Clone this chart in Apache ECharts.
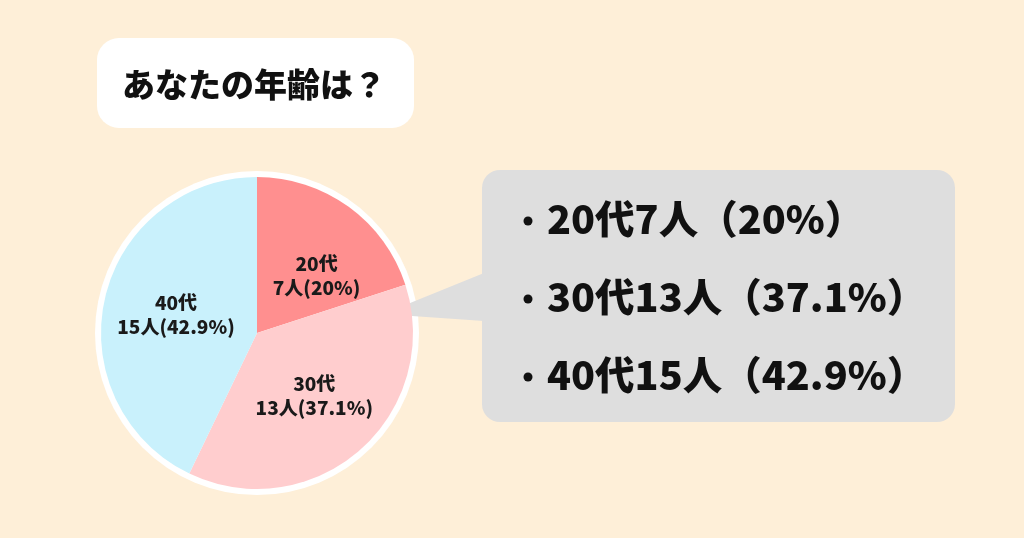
<!DOCTYPE html>
<html><head><meta charset="utf-8">
<script src="https://cdn.jsdelivr.net/npm/echarts@6/dist/echarts.min.js"></script>
<style>html,body{margin:0;padding:0;background:#FEEFD8;}#c{width:1024px;height:538px;}</style>
</head><body><div id="c"></div>
<script>
const titleText = 'あなたの年齢は？';
const categories = ['20代', '30代', '40代'];
const values = [7, 13, 15];
const unit = '人';

const total = values.reduce((a, b) => a + b, 0);
const pct = values.map(v => Number((v / total * 100).toFixed(1)));
const FONT = '"Noto Sans CJK JP", "Noto Sans", sans-serif';

const chart = echarts.init(document.getElementById('c'));
const calloutLines = [];
categories.forEach((c, i) => {
  calloutLines.push({
    type: 'circle', z: 20,
    shape: { cx: 528, cy: 221 + i * 78, r: 4.5 }, style: { fill: '#111' }
  });
  calloutLines.push({
    type: 'text', z: 20,
    style: {
      x: 547, y: 219 + i * 78,
      text: c + values[i] + unit + '（' + pct[i] + '%）',
      font: '900 39.5px ' + FONT, fill: '#111', verticalAlign: 'middle', align: 'left'
    }
  });
});

chart.setOption({
  backgroundColor: '#FEEFD8',
  animation: false,
  graphic: [
    { type: 'rect', z: 1, shape: { x: 97, y: 38, width: 317, height: 90, r: 22 }, style: { fill: '#FFFFFF' } },
    { type: 'text', z: 20, style: { x: 122, y: 84, text: titleText, font: '900 33px ' + FONT, fill: '#111', verticalAlign: 'middle' } },
    { type: 'circle', z: 0, shape: { cx: 257, cy: 333, r: 162 }, style: { fill: '#FFFFFF' } },
    { type: 'polygon', z: 1, shape: { points: [[383, 314], [484, 273], [484, 321]] }, style: { fill: '#DEDEDE' } },
    { type: 'rect', z: 1, shape: { x: 482, y: 170, width: 473, height: 252, r: 18 }, style: { fill: '#DEDEDE' } }
  ].concat(calloutLines),
  series: [{
    type: 'pie',
    center: [257, 333],
    radius: [0, 156],
    startAngle: 90,
    clockwise: true,
    percentPrecision: 1,
    silent: true,
    label: {
      show: true, position: 'inside',
      formatter: p => p.name + '\n' + p.value + unit + '(' + p.percent + '%)',
      fontFamily: FONT, fontWeight: 900, fontSize: 19, lineHeight: 24, color: '#1a1a1a'
    },
    labelLine: { show: false },
    itemStyle: { borderWidth: 0 },
    data: categories.map((c, i) => ({
      name: c, value: values[i],
      itemStyle: { color: ['#FF8F8F', '#FFCDCE', '#C9F1FC'][i] },
      label: { offset: [[12, 8], [4, 2], [-2, 0]][i] }
    }))
  }]
});
</script></body></html>
